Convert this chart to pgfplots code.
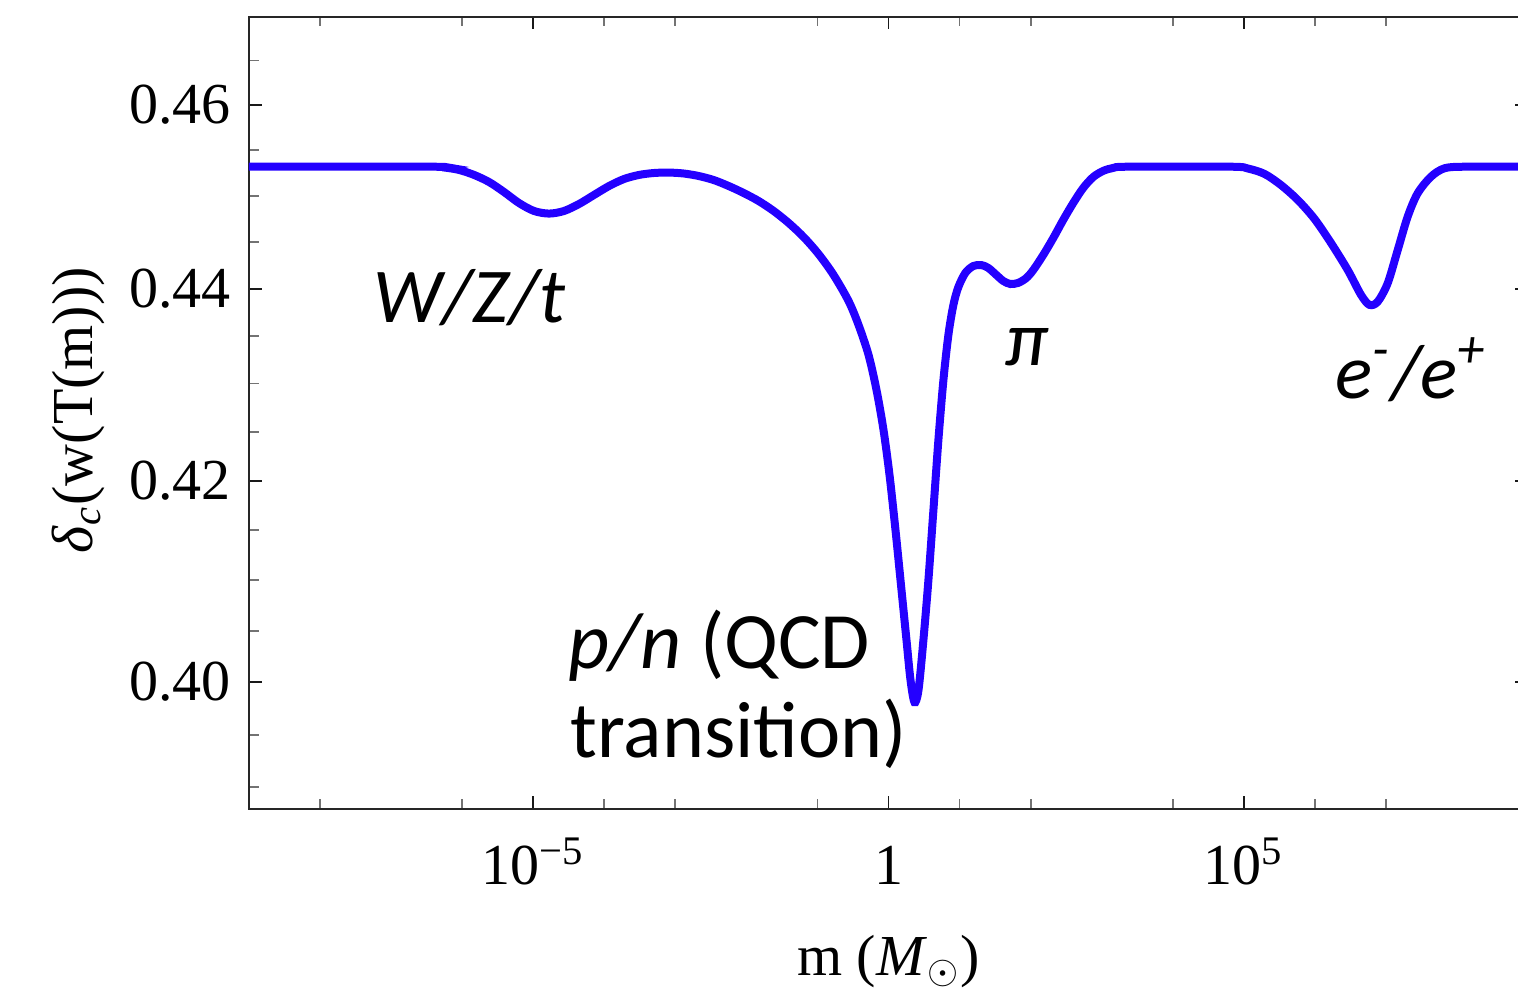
\documentclass[border=0pt]{standalone}
\usepackage{pgfplots}
\pgfplotsset{compat=1.18}
\usepackage{fontspec}
\setmainfont{Liberation Serif}
\newfontfamily\calfont{Carlito}
\definecolor{curveblue}{RGB}{36,0,255}

\begin{document}
\begin{tikzpicture}
\path[use as bounding box] (0,0) rectangle (379.5pt,247.5pt);
\clip (0,0) rectangle (379.5pt,247.5pt);
\begin{axis}[
  at={(62.25pt,45.375pt)}, anchor=south west,
  scale only axis, width=319.75pt, height=198pt,
  xmode=log, ymode=log,
  xmin=1e-9, xmax=1e9, ymin=0.38796, ymax=0.46996,
  axis line style={draw=black!85, line width=0.5pt},
  tick align=inside,
  major tick length=3.2pt, minor tick length=2.4pt,
  major tick style={black!90, line width=0.45pt},
  minor tick style={black!55, line width=0.45pt},
  xtick={1e-5,1,1e5},
  xticklabels={10\textsuperscript{−5},1,10\textsuperscript{5}},
  minor xtick={1e-8,1e-6,1e-4,1e-3,0.1,10,100,1e4,1e6,1e7},
  ytick={0.40,0.42,0.44,0.46},
  yticklabels={0.40,0.42,0.44,0.46},
  minor ytick={0.39,0.395,0.405,0.41,0.415,0.425,0.43,0.435,0.445,0.45,0.455,0.465},
  ticklabel style={font=\fontsize{14.5}{17}\selectfont, inner sep=0pt},
  xticklabel style={anchor=base, yshift=-19.1pt},
  yticklabel style={anchor=east, xshift=-4.3pt},
  xlabel={m (\textit{M}\textsubscript{$\odot$})},
  ylabel={\textit{δ}\textsubscript{\textit{c}}(w(T(m)))},
  label style={font=\fontsize{14.5}{17}\selectfont},
  xlabel style={at={(axis description cs:0.5,-0.2102)}, anchor=base, inner sep=0pt},
  ylabel style={at={(axis description cs:-0.1337,0.503)}, anchor=center, inner sep=0pt},
]
\addplot[curveblue, line width=2pt, smooth, tension=0.5] coordinates {
(1e-9,0.45318)
(3.44e-7,0.45318)
(5.59e-7,0.45309)
(9.08e-7,0.45282)
(1.476e-6,0.45227)
(2.40e-6,0.45150)
(3.89e-6,0.45041)
(6.32e-6,0.44921)
(1.028e-5,0.44835)
(1.671e-5,0.44807)
(2.71e-5,0.44835)
(4.41e-5,0.44911)
(7.16e-5,0.45009)
(1.164e-4,0.45107)
(1.891e-4,0.45183)
(3.07e-4,0.45227)
(4.99e-4,0.45249)
(8.11e-4,0.45254)
(1.318e-3,0.45243)
(2.14e-3,0.45216)
(3.48e-3,0.45172)
(5.65e-3,0.45107)
(9.18e-3,0.45030)
(0.01490,0.44943)
(0.02422,0.44835)
(0.03936,0.44705)
(0.0640,0.44553)
(0.1038,0.44370)
(0.1687,0.44145)
(0.2742,0.43868)
(0.3790,0.43614)
(0.5236,0.43299)
(0.6783,0.42933)
(0.8505,0.42519)
(1.033,0.42059)
(1.254,0.41502)
(1.523,0.40904)
(1.790,0.40412)
(2.038,0.40022)
(2.319,0.39810)
(2.639,0.39926)
(3.103,0.40412)
(3.648,0.41003)
(4.289,0.41704)
(5.041,0.42417)
(5.929,0.43037)
(6.968,0.43509)
(8.190,0.43826)
(9.630,0.44017)
(12.08,0.44167)
(15.64,0.44242)
(20.26,0.44252)
(25.42,0.44220)
(32.93,0.44145)
(41.29,0.44081)
(51.80,0.44049)
(67.08,0.44060)
(86.90,0.44113)
(109.0,0.44199)
(150.6,0.44360)
(208.2,0.44542)
(287.7,0.44737)
(397.6,0.44921)
(549.5,0.45085)
(759.5,0.45205)
(1049,0.45271)
(1450,0.45304)
(2356,0.45318)
(6.60e4,0.45318)
(1.144e5,0.45298)
(1.963e5,0.45238)
(3.33e5,0.45118)
(5.77e5,0.44954)
(9.90e5,0.44748)
(1.693e6,0.44488)
(2.907e6,0.44199)
(4.47e6,0.43932)
(5.87e6,0.43827)
(7.67e6,0.43861)
(1.060e7,0.44057)
(1.466e7,0.44413)
(2.026e7,0.44773)
(2.80e7,0.45027)
(4.30e7,0.45208)
(6.64e7,0.45300)
(1.268e8,0.45318)
(1e9,0.45318)
};
\end{axis}
\begin{scope}[every node/.style={inner sep=0pt, font=\calfont\fontsize{19.4}{23}\selectfont}]
\node[anchor=base west] at (93.25pt,167pt) {\itshape W/Z/t};
\node[anchor=base west] at (251.25pt,156.25pt) {\itshape π};
\node[anchor=base west] at (333.75pt,148pt) {\itshape e\textsuperscript{-}/e\textsuperscript{+}};
\node[anchor=base west, font=\calfont\fontsize{20}{24}\selectfont] at (142pt,80.5pt) {\textit{p/n} (QCD};
\node[anchor=base west, font=\calfont\fontsize{20}{24}\selectfont] at (142.5pt,58.25pt) {transition)};
\end{scope}
\end{tikzpicture}
\end{document}
